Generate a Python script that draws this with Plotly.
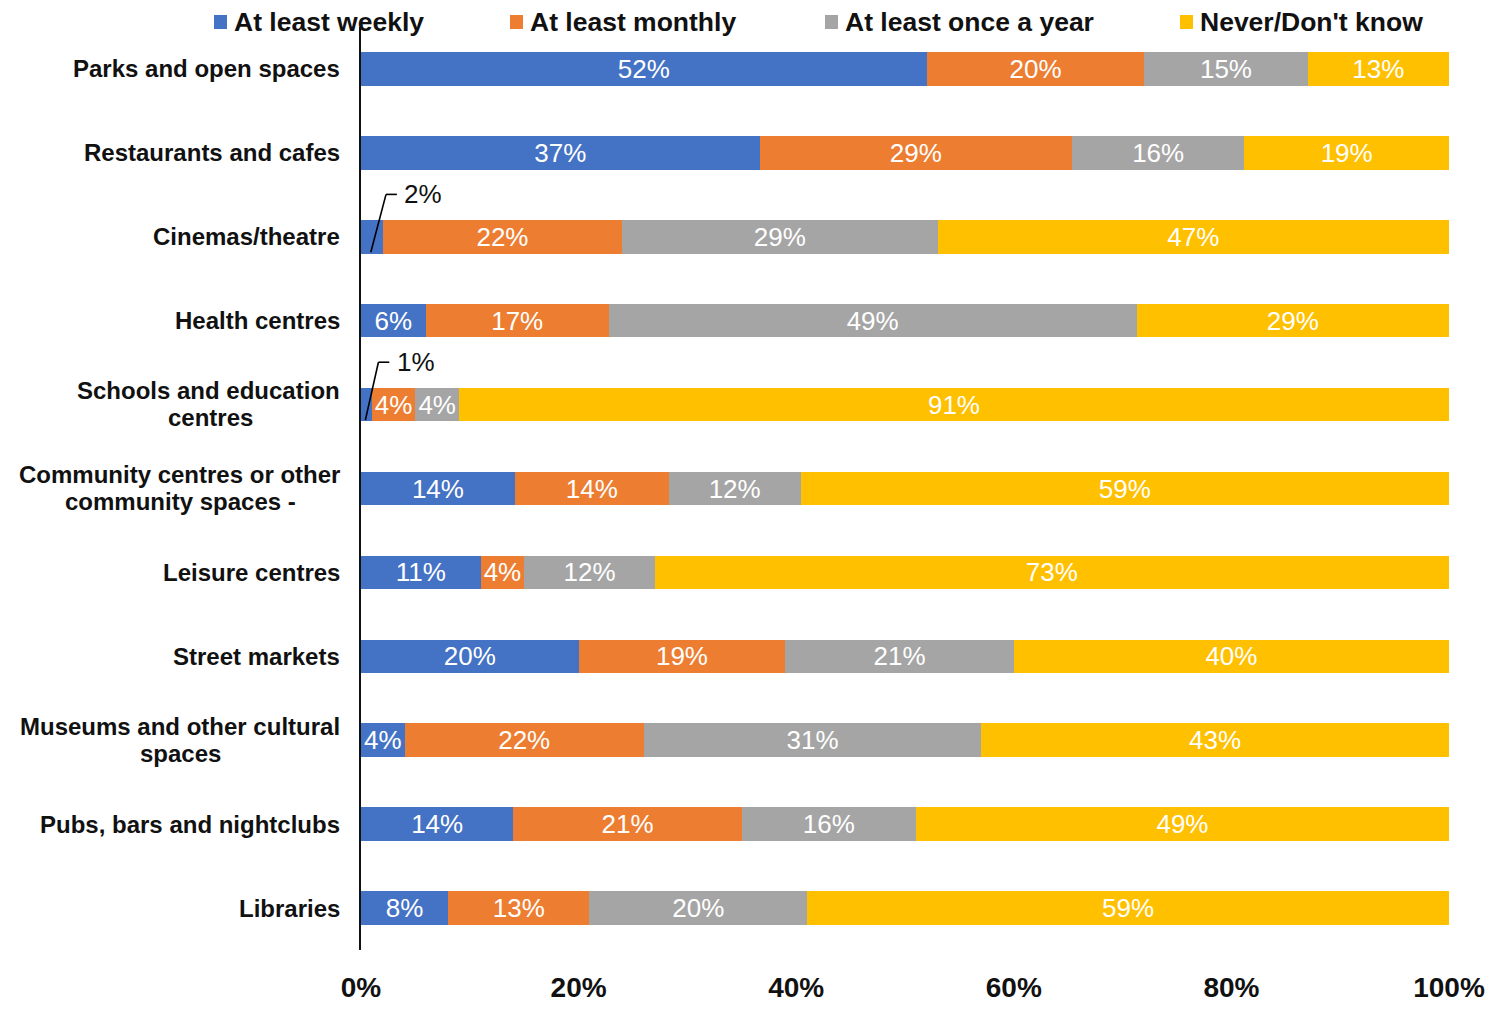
import plotly.graph_objects as go

# Survey results: how often people use each type of local space
categories = [
    "Parks and open spaces",
    "Restaurants and cafes",
    "Cinemas/theatre",
    "Health centres",
    "Schools and education centres",
    "Community centres or other community spaces -",
    "Leisure centres",
    "Street markets",
    "Museums and other cultural spaces",
    "Pubs, bars and nightclubs",
    "Libraries",
]
# Axis labels as printed (two-line labels split into their lines)
category_lines = [
    ["Parks and open spaces"],
    ["Restaurants and cafes"],
    ["Cinemas/theatre"],
    ["Health centres"],
    ["Schools and education", "centres"],
    ["Community centres or other", "community spaces -"],
    ["Leisure centres"],
    ["Street markets"],
    ["Museums and other cultural", "spaces"],
    ["Pubs, bars and nightclubs"],
    ["Libraries"],
]

series_names = ["At least weekly", "At least monthly", "At least once a year", "Never/Don't know"]
weekly = [52, 37, 2, 6, 1, 14, 11, 20, 4, 14, 8]
monthly = [20, 29, 22, 17, 4, 14, 4, 19, 22, 21, 13]
yearly = [15, 16, 29, 49, 4, 12, 12, 21, 31, 16, 20]
never = [13, 19, 47, 29, 91, 59, 73, 40, 43, 49, 59]

tick_values = [0, 20, 40, 60, 80, 100]
tick_labels = ["0%", "20%", "40%", "60%", "80%", "100%"]

colors = ["#4472C4", "#ED7D31", "#A5A5A5", "#FFC000"]
FONT = "Liberation Sans, Arial, sans-serif"

# figure geometry (pixels)
FIG_W, FIG_H = 1499, 1010
M_L, M_R, M_T, M_B = 361, 50, 27, 60
PLOT_W = FIG_W - M_L - M_R
PLOT_H = FIG_H - M_T - M_B


def px_x(px):
    return (px - M_L) / PLOT_W


def px_y(py):
    return (FIG_H - M_B - py) / PLOT_H


SMALL = 3  # segments narrower than this get an outside leader label

fig = go.Figure()
for name, vals, col in zip(series_names, [weekly, monthly, yearly, never], colors):
    fig.add_trace(go.Bar(
        y=categories,
        x=vals,
        name=name,
        orientation="h",
        marker=dict(color=col, line=dict(width=0)),
        text=[f"{v}%" if v >= SMALL else "" for v in vals],
        textposition="inside",
        insidetextanchor="middle",
        textangle=0,
        constraintext="none",
        textfont=dict(family=FONT, size=26, color="white"),
        width=0.4,
        showlegend=False,
        hoverinfo="skip",
    ))

shapes = []
annotations = []

# leader-line labels for the tiny "weekly" segments
for i, v in enumerate(weekly):
    if v >= SMALL:
        continue
    x0 = v / 2 - 0.1
    y0 = i + 0.185
    x1 = x0 + 1.0 + v * 0.2
    y1 = i - 0.505
    x2 = x1 + 1.0
    line = dict(color="black", width=1.6)
    shapes.append(dict(type="line", xref="x", yref="y", x0=x0, y0=y0, x1=x1, y1=y1, line=line))
    shapes.append(dict(type="line", xref="x", yref="y", x0=x1, y0=y1, x1=x2, y1=y1, line=line))
    annotations.append(dict(
        x=x2 + 0.5, y=y1, xref="x", yref="y", xanchor="left", yanchor="middle",
        text=f"{v}%", showarrow=False,
        font=dict(family=FONT, size=26, color="#111111"),
    ))

# category labels, right aligned against the axis; wrapped lines centred
cat_font = dict(family=FONT, size=24, color="#111111", weight="bold")
second_line_center = {4: 210, 5: 180, 8: 180}
for i, lines in enumerate(category_lines):
    if len(lines) == 1:
        annotations.append(dict(
            x=0, xref="paper", y=categories[i], yref="y", xanchor="right", yanchor="middle",
            xshift=-19, text=lines[0], showarrow=False, font=cat_font,
        ))
    else:
        annotations.append(dict(
            x=0, xref="paper", y=categories[i], yref="y", xanchor="right", yanchor="middle",
            xshift=-19, yshift=14, text=lines[0], showarrow=False, font=cat_font,
        ))
        annotations.append(dict(
            x=0, xref="paper", y=categories[i], yref="y", xanchor="center", yanchor="middle",
            xshift=second_line_center[i] - M_L, yshift=-13, text=lines[1], showarrow=False,
            font=cat_font,
        ))

# legend row across the top
legend_marker_left = [214, 510, 825, 1180]
legend_y = 22
for name, col, mx in zip(series_names, colors, legend_marker_left):
    shapes.append(dict(
        type="rect", xref="paper", yref="paper",
        x0=px_x(mx), x1=px_x(mx + 13), y0=px_y(legend_y + 7), y1=px_y(legend_y - 7),
        fillcolor=col, line=dict(width=0),
    ))
    annotations.append(dict(
        x=px_x(mx + 18), xref="paper", y=px_y(legend_y), yref="paper",
        xanchor="left", yanchor="middle", text=name, showarrow=False,
        font=dict(family=FONT, size=26.5, color="#111111", weight="bold"),
    ))

fig.update_layout(
    width=FIG_W,
    height=FIG_H,
    margin=dict(l=M_L, r=M_R, t=M_T, b=M_B, pad=0),
    barmode="stack",
    barnorm="percent",
    paper_bgcolor="white",
    plot_bgcolor="white",
    shapes=shapes,
    annotations=annotations,
    font=dict(family=FONT),
    xaxis=dict(
        range=[0, 100],
        tickvals=tick_values,
        ticktext=tick_labels,
        showgrid=False,
        zeroline=False,
        showline=False,
        ticks="",
        automargin=False,
        ticklabelstandoff=18,
        tickfont=dict(family=FONT, size=28, color="#111111", weight="bold"),
        fixedrange=True,
    ),
    yaxis=dict(
        type="category",
        categoryorder="array",
        categoryarray=categories,
        autorange="reversed",
        automargin=False,
        showticklabels=False,
        showgrid=False,
        zeroline=False,
        showline=True,
        linecolor="#111111",
        linewidth=1.6,
        ticks="",
        fixedrange=True,
    ),
)

fig.write_html("out.html", config={"displayModeBar": False})
